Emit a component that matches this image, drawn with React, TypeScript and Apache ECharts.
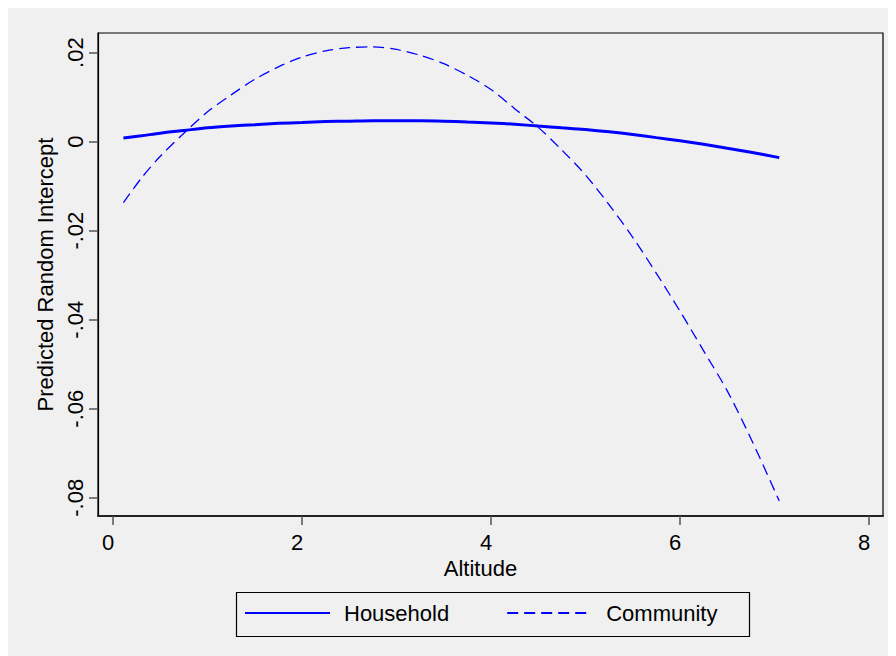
import React, { useEffect, useRef } from "react";
import * as echarts from "echarts";

// Altitude values at which both predictions are sampled
const altitude = [
  0.11, 0.3, 0.5, 0.75, 1, 1.25, 1.5, 1.75, 2, 2.25, 2.5, 2.75, 3, 3.25, 3.5, 3.75, 4,
  4.25, 4.5, 4.75, 5, 5.25, 5.5, 5.75, 6, 6.25, 6.5, 6.75, 7.05,
];

// Predicted random intercepts, household level
const household = [
  0.0008, 0.0013, 0.0019, 0.0025, 0.0031, 0.0035, 0.0038, 0.0041, 0.0043, 0.0045,
  0.0046, 0.0047, 0.0047, 0.0047, 0.0046, 0.0044, 0.0042, 0.0039, 0.0035, 0.0031,
  0.0027, 0.0022, 0.0016, 0.0009, 0.0002, -0.0006, -0.0015, -0.0024, -0.0036,
];

// Predicted random intercepts, community level
const community = [
  -0.0137, -0.0082, -0.0033, 0.0019, 0.0067, 0.0105, 0.014, 0.0168, 0.019, 0.0204,
  0.0211, 0.0213, 0.0207, 0.0194, 0.0175, 0.0149, 0.0117, 0.0074, 0.0032, -0.0019,
  -0.0075, -0.0142, -0.0215, -0.0296, -0.0381, -0.047, -0.056, -0.0667, -0.0807,
];

const xTicks = [0, 2, 4, 6, 8];
const yTicks = [-0.08, -0.06, -0.04, -0.02, 0, 0.02];

const FONT = "'Liberation Sans', Arial, Helvetica, sans-serif";
const SIZE = 22;

const fmtY = (v: number) => {
  if (Math.abs(v) < 1e-9) return "0";
  const s = Math.abs(v).toFixed(2).replace(/^0/, "");
  return (v < 0 ? "-" : "") + s;
};

export default function App() {
  const ref = useRef<HTMLDivElement>(null);

  useEffect(() => {
    document.documentElement.style.overflow = "hidden";
    const chart = echarts.init(ref.current!, null, { renderer: "svg" });
    const pairs = (ys: number[]) => altitude.map((x, i) => [x, ys[i]]);

    chart.setOption({
      animation: false,
      backgroundColor: "#f0f0f0",
      textStyle: { fontFamily: FONT, color: "#000" },
      grid: {
        left: 90,
        top: 25,
        right: 13,
        bottom: 140,
        show: true,
        borderColor: "#000",
        borderWidth: 1.2,
      },
      xAxis: {
        type: "value",
        min: -0.159,
        max: 8.148,
        name: "Altitude",
        nameLocation: "middle",
        nameGap: 36,
        nameTextStyle: { fontSize: SIZE, color: "#000", fontFamily: FONT, padding: [0, 20, 0, 0] },
        axisLine: { show: true, onZero: false, lineStyle: { color: "#222", width: 1.8 } },
        axisTick: {
          show: true,
          length: 9,
          customValues: xTicks,
          lineStyle: { color: "#555", width: 1.5 },
        },
        axisLabel: {
          customValues: xTicks,
          fontSize: SIZE,
          color: "#000",
          fontFamily: FONT,
          margin: 15,
          padding: [0, 10, 0, 0],
          formatter: (v: number) => String(v),
        },
        splitLine: { show: false },
      },
      yAxis: {
        type: "value",
        min: -0.0841,
        max: 0.0244,
        name: "Predicted Random Intercept",
        nameLocation: "middle",
        nameGap: 37,
        nameTextStyle: { fontSize: SIZE, color: "#000", fontFamily: FONT },
        axisLine: { show: true, onZero: false, lineStyle: { color: "#000", width: 1.2 } },
        axisTick: {
          show: true,
          length: 9,
          customValues: yTicks,
          lineStyle: { color: "#555", width: 1.5 },
        },
        axisLabel: {
          customValues: yTicks,
          rotate: 90,
          fontSize: SIZE,
          color: "#000",
          fontFamily: FONT,
          margin: 12,
          formatter: fmtY,
        },
        splitLine: { show: false },
      },
      legend: {
        data: ["Household", "Community"],
        left: 236,
        top: 594,
        padding: 0,
        itemWidth: 85,
        itemHeight: 20,
        itemGap: 57,
        itemStyle: { opacity: 0, borderWidth: 0 },
        textStyle: { fontSize: SIZE, color: "#000", fontFamily: FONT, padding: [0, 0, 0, 9] },
      },
      graphic: [
        {
          type: "rect",
          left: 226,
          top: 582,
          shape: { width: 513, height: 44 },
          style: { fill: "none", stroke: "#000", lineWidth: 1.2 },
          silent: true,
        },
      ],
      series: [
        {
          name: "Household",
          type: "line",
          data: pairs(household),
          smooth: 0.3,
          symbol: "none",
          showSymbol: false,
          lineStyle: { color: "#0000ff", width: 3, type: "solid" },
          itemStyle: { color: "#0000ff" },
        },
        {
          name: "Community",
          type: "line",
          data: pairs(community),
          smooth: 0.3,
          symbol: "none",
          showSymbol: false,
          lineStyle: { color: "#0000ff", width: 1.3, type: [11, 6] },
          itemStyle: { color: "#0000ff" },
        },
      ],
    });

    return () => chart.dispose();
  }, []);

  return <div ref={ref} style={{ width: 888, height: 648 }} />;
}
